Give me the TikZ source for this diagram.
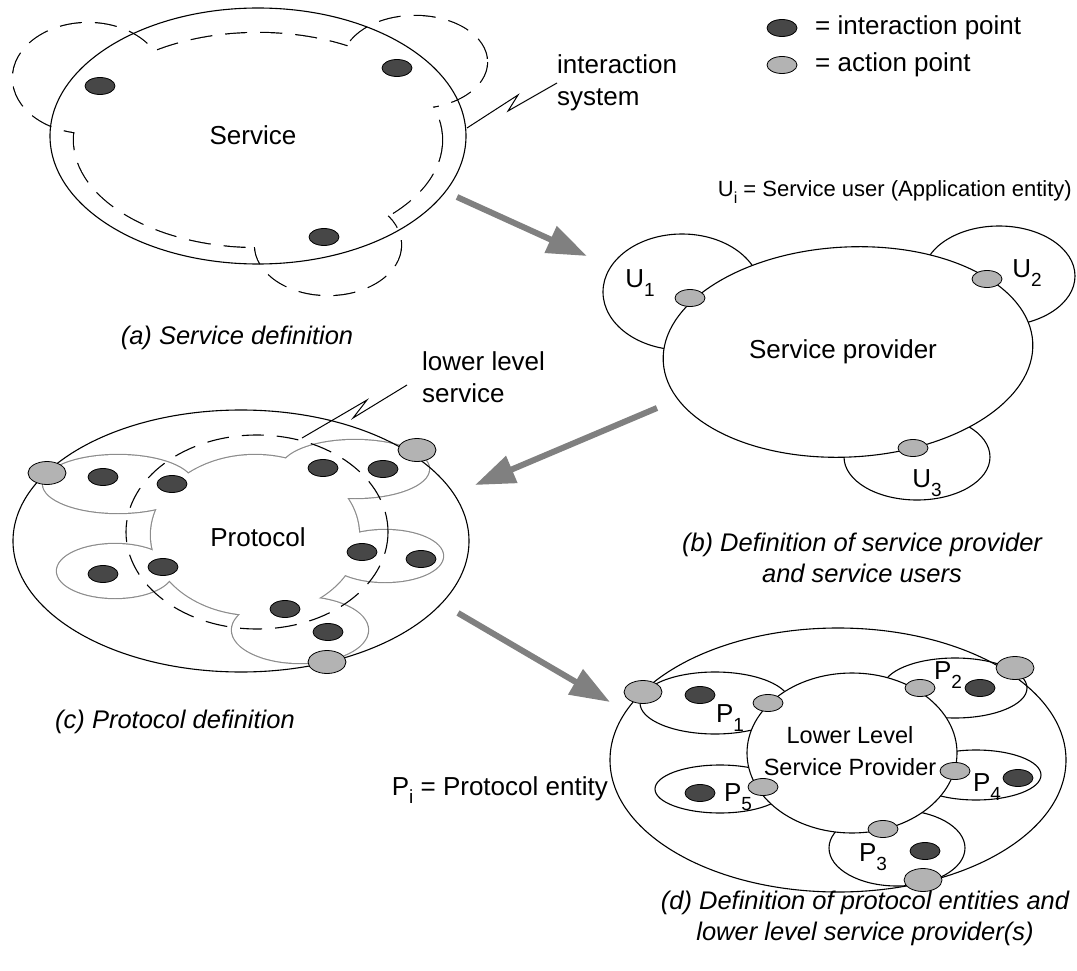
\documentclass[tikz,border=0pt]{standalone}
\usepackage{fontspec}
\setmainfont{Liberation Sans}
\usetikzlibrary{shapes.geometric,arrows.meta}
\definecolor{dotdark}{HTML}{474747}
\definecolor{dotlight}{HTML}{B3B3B3}
\definecolor{arrowgray}{HTML}{808080}
\definecolor{petalgray}{HTML}{8C8C8C}
\newcommand{\lsub}[1]{\raisebox{-0.32em}{\fontsize{19}{19}\selectfont #1}}
\newcommand{\ssub}[1]{\raisebox{-0.32em}{\fontsize{16}{16}\selectfont #1}}
\begin{document}
\begin{tikzpicture}[x=1pt,y=-1pt,
  lbl/.style={font=\fontsize{26}{32}\selectfont, inner sep=0pt, align=center},
  smalllbl/.style={font=\fontsize{23.5}{32}\selectfont, inner sep=0pt, align=center},
  captxt/.style={font=\fontsize{25.5}{31}\selectfont\itshape, inner sep=0pt, align=center},
  ipt/.style={ellipse, draw=black, line width=0.8pt, fill=dotdark, minimum width=30pt, minimum height=17pt, inner sep=0pt},
  apt/.style={ellipse, draw=black, line width=0.8pt, fill=dotlight, minimum width=30pt, minimum height=17pt, inner sep=0pt},
  bigap/.style={apt, minimum width=38pt, minimum height=23pt},
  outline/.style={draw=black, line width=1.1pt},
  dashline/.style={draw=black, line width=2.4pt, dash pattern=on 22pt off 13pt},
  petal/.style={draw=petalgray, line width=2.4pt},
  bigarrow/.style={draw=arrowgray, line width=6pt, -{Triangle[length=40pt,width=28pt]}},
  pointer/.style={draw=black, line width=1pt},
]
\useasboundingbox (0,0) rectangle (1077,971);

% ---------------- (a) Service definition ----------------
\draw[dashline] (258,140) ellipse[x radius=184, y radius=107];
\draw[dashline] (88,78) ellipse[x radius=75, y radius=55];
\draw[dashline] (415,62) ellipse[x radius=72, y radius=46];
\draw[dashline] (328,245) ellipse[x radius=73, y radius=50];
\fill[white] (258,140) ellipse[x radius=184, y radius=107];
\fill[white] (88,78) ellipse[x radius=75, y radius=55];
\fill[white] (415,62) ellipse[x radius=72, y radius=46];
\fill[white] (328,245) ellipse[x radius=73, y radius=50];
\draw[outline] (258,136) ellipse[x radius=208, y radius=128];
\node[ipt] (a1) at (100,86) {};
\node[ipt] (a2) at (397,68) {};
\node[ipt] (a3) at (324,237) {};
\node[lbl] (service) at (253,135) {Service};
\coordinate (isA) at (467,128);
\node[lbl, anchor=west, align=left] (isys) at (557,83) {interaction\\system};
\draw[pointer] (isA) -- (518,95) -- (508,111) -- (isys.west);
\node[captxt] (capa) at (237,338) {(a) Service definition};

% ---------------- legend ----------------
\node[ipt] (legi) at (782,28) {};
\node[apt] (lega) at (782,65) {};
\node[lbl, anchor=west] (legit) at (815,28) {= interaction point};
\node[lbl, anchor=west] (legat) at (815,65) {= action point};

% ---------------- (b) Service provider ----------------
\node[font=\fontsize{22}{26}\selectfont, inner sep=0pt, anchor=east] (ulegend) at (1072,192) {U\ssub{i} = Service user (Application entity)};
\draw[outline] (682,292) ellipse[x radius=79, y radius=58];
\draw[outline] (999,276) ellipse[x radius=76, y radius=50];
\draw[outline] (917,457) ellipse[x radius=73, y radius=43];
\filldraw[outline, fill=white, rotate around={3:(848,352)}] (848,352) ellipse[x radius=185, y radius=105];
\node[apt] (u1d) at (690,298) {};
\node[apt] (u2d) at (987,279) {};
\node[apt] (u3d) at (913,448) {};
\node[lbl] (u1) at (640,283) {U\lsub{1}};
\node[lbl] (u2) at (1027,273) {U\lsub{2}};
\node[lbl] (u3) at (927,483) {U\lsub{3}};
\node[lbl] (sp) at (843,352) {Service provider};
\node[captxt] (capb) at (862,558) {(b) Definition of service provider\\and service users};

% ---------------- (c) Protocol ----------------
\draw[petal] (118,484) ellipse[x radius=75, y radius=29];
\draw[petal] (355,469) ellipse[x radius=74, y radius=29];
\draw[petal] (385,556) ellipse[x radius=58, y radius=26];
\draw[petal] (300,630) ellipse[x radius=68, y radius=33];
\draw[petal] (115,571) ellipse[x radius=58, y radius=27];
\draw[petal] (255,535) ellipse[x radius=104, y radius=80];
\fill[white] (118,484) ellipse[x radius=75, y radius=29];
\fill[white] (355,469) ellipse[x radius=74, y radius=29];
\fill[white] (385,556) ellipse[x radius=58, y radius=26];
\fill[white] (300,630) ellipse[x radius=68, y radius=33];
\fill[white] (115,571) ellipse[x radius=58, y radius=27];
\fill[white] (255,535) ellipse[x radius=104, y radius=80];
\draw[draw=black, line width=1.1pt, dash pattern=on 22pt off 13pt] (257,532) ellipse[x radius=131, y radius=97];
\draw[outline] (241,541) ellipse[x radius=228, y radius=131];
\node[ipt] (c1) at (103,477) {};
\node[ipt] (c2) at (172,484) {};
\node[ipt] (c3) at (323,468) {};
\node[ipt] (c4) at (383,469) {};
\node[ipt] (c5) at (103,574) {};
\node[ipt] (c6) at (163,567) {};
\node[ipt] (c7) at (362,552) {};
\node[ipt] (c8) at (421,559) {};
\node[ipt] (c9) at (285,609) {};
\node[ipt] (c10) at (328,632) {};
\node[bigap] (cap1) at (47,473) {};
\node[bigap] (cap2) at (417,450) {};
\node[bigap] (cap3) at (327,662) {};
\node[lbl] (proto) at (258,537) {Protocol};
\node[lbl, anchor=west, align=left] (lls) at (422,377) {lower level\\service};
\coordinate (llsT) at (302,438);
\draw[pointer] (407,385) -- (353,418) -- (367,400) -- (llsT);
\node[captxt] (capc) at (175,722) {(c) Protocol definition};

% ---------------- (d) Protocol entities ----------------
\node[lbl, anchor=east] (plegend) at (608,790) {P\lsub{i} = Protocol entity};
\draw[outline] (838,760) ellipse[x radius=228, y radius=132];
\draw[outline] (715,703) ellipse[x radius=75, y radius=31];
\draw[outline] (955,688) ellipse[x radius=72, y radius=30];
\draw[outline] (976,775) ellipse[x radius=65, y radius=25];
\draw[outline] (720,789) ellipse[x radius=65, y radius=24];
\draw[outline] (897,848) ellipse[x radius=68, y radius=38];
\filldraw[outline, fill=white] (852,753) ellipse[x radius=105, y radius=80];
\node[smalllbl] (llsp) at (850,751) {Lower Level\\Service Provider};
\node[ipt] (d1) at (700,695) {};
\node[ipt] (d2) at (980,688) {};
\node[ipt] (d4) at (1018,778) {};
\node[ipt] (d5) at (700,793) {};
\node[ipt] (d3) at (925,851) {};
\node[apt] (s1) at (768,703) {};
\node[apt] (s2) at (920,688) {};
\node[apt] (s4) at (955,771) {};
\node[apt] (s5) at (763,787) {};
\node[apt] (s3) at (883,829) {};
\node[bigap] (dap1) at (643,692) {};
\node[bigap] (dap2) at (1015,668) {};
\node[bigap] (dap3) at (923,880) {};
\node[lbl] (p1) at (730,718) {P\lsub{1}};
\node[lbl] (p2) at (948,675) {P\lsub{2}};
\node[lbl] (p4) at (987,787) {P\lsub{4}};
\node[lbl] (p5) at (738,797) {P\lsub{5}};
\node[lbl] (p3) at (873,857) {P\lsub{3}};
\node[captxt] (capd) at (865,918) {(d) Definition of protocol entities and\\lower level service provider(s)};

% ---------------- arrows ----------------
\coordinate (ar1s) at (457,197); \coordinate (ar1e) at (587,256);
\coordinate (ar2s) at (657,408); \coordinate (ar2e) at (475,485);
\coordinate (ar3s) at (458,613); \coordinate (ar3e) at (610,702);
\draw[bigarrow] (ar1s) -- (ar1e);
\draw[bigarrow] (ar2s) -- (ar2e);
\draw[bigarrow] (ar3s) -- (ar3e);
\end{tikzpicture}
\end{document}
